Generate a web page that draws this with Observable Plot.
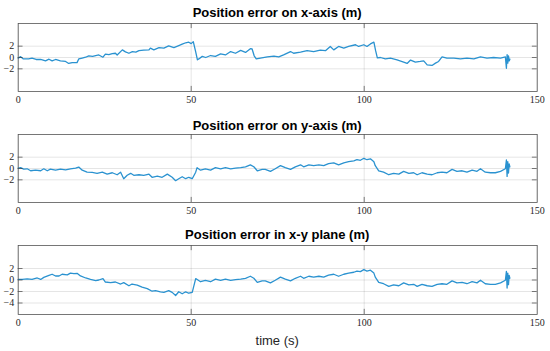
<!DOCTYPE html>
<html>
<head>
<meta charset="utf-8">
<script src="https://cdn.jsdelivr.net/npm/d3@7"></script>
<script src="https://cdn.jsdelivr.net/npm/@observablehq/plot@0.6"></script>
<style>
  html, body { margin: 0; padding: 0; background: #fff; }
  #root { position: relative; width: 550px; height: 351px; overflow: hidden; background: #fff; }
  .title { position: absolute; left: 17.7px; width: 519px; text-align: center; font-family: "Liberation Sans", Arial, sans-serif; font-weight: bold; font-size: 13px; line-height: 15px; color: #000; white-space: nowrap; }
  .xlabel { position: absolute; left: 17.7px; width: 519px; text-align: center; font-family: "Liberation Sans", Arial, sans-serif; font-size: 13px; line-height: 15px; color: #262626; }
  .panel { position: absolute; left: 0; }
  .panel svg { overflow: visible; }
</style>
</head>
<body>
<div id="root"></div>
<script>
const titles = ["Position error on x-axis (m)", "Position error on y-axis (m)", "Position error in x-y plane (m)"];
const xLabel = "time (s)";
const xTicks = [0, 50, 100, 150];
const yTicksXY = [-2, 0, 2];
const yTicksPlane = [-4, -2, 0, 2];

// [time (s), error (m)]
const errX = [[0,-0.1],[0.7,0.15],[1.5,-0.25],[3,-0.25],[4,-0.1],[5.2,-0.35],[6.5,-0.35],[7.9,-0.6],[8.9,-0.3],[9.8,-0.6],[10.8,-0.35],[12.2,-0.6],[13.7,-0.7],[14.6,-1.05],[15.6,-0.9],[17,-0.9],[17.5,-0.25],[18.5,-0.1],[19.5,0.05],[20.4,0.3],[21.5,0.2],[22.4,0.35],[23.3,0.45],[24.5,0.05],[25.2,0.6],[26.2,0.5],[27.2,0.7],[28.1,0.75],[28.6,0.45],[30.1,1.35],[31,1.0],[32,0.75],[33,1.05],[34,0.95],[34.9,1.2],[36.3,1.3],[37.8,1.35],[38.2,1.65],[39.2,1.35],[40.7,1.75],[42.1,1.65],[43.5,2.05],[45,1.75],[46.4,2.1],[47.4,2.35],[48.4,2.6],[49.3,2.7],[50,2.45],[50.6,2.8],[51.3,1.0],[51.8,-0.4],[52.2,-0.25],[53.2,0.2],[54.2,0],[55.6,0.35],[57,0.2],[58.5,0.65],[59.9,0.45],[61.4,1.05],[62.8,0.75],[64.3,1.25],[65.7,0.9],[67.1,1.55],[67.6,1.5],[68.2,0.3],[68.8,-0.25],[70,-0.1],[72,0.1],[73.9,0.25],[75.3,0.1],[76.7,0.45],[78.7,1.05],[79.6,0.75],[81.6,0.95],[83.5,1.2],[85.4,1.05],[87.3,1.3],[88.8,1.2],[90.2,1.95],[91.2,1.35],[92.6,1.95],[94.1,1.65],[95.5,1.95],[97.5,2.25],[98.4,1.95],[99.9,2.25],[100.8,1.95],[101.8,2.4],[102.8,2.7],[103.3,1.2],[103.8,-0.05],[104.7,0],[106.1,-0.25],[107.6,-0.1],[109.5,-0.4],[111.4,-0.8],[112.4,-1.05],[113.4,-0.45],[114.8,-0.8],[116.2,-0.7],[117.2,-0.6],[118.2,-1.3],[119.6,-1.4],[120.6,-1.0],[121.5,-0.7],[122.5,0.1],[123.9,-0.1],[125.9,-0.1],[127.8,-0.25],[129.7,-0.1],[131.7,-0.25],[133.6,0.1],[135.5,-0.1],[137.4,0],[139.4,-0.1],[140.8,0.1],[141.1,-1.9],[141.3,0.5],[141.5,-1.0],[141.7,0.3],[141.9,-0.6],[142.1,-0.3]];

const errY = [[0,0.05],[0.7,0.15],[1.6,-0.1],[2.6,-0.05],[3.6,-0.4],[5,-0.3],[6.5,-0.4],[7.4,-0.05],[8.4,-0.4],[9.3,-0.1],[10.8,-0.3],[12.2,-0.1],[13.7,-0.25],[15.1,-0.05],[16.6,0.05],[17.5,0.25],[18.5,-0.3],[19.9,-0.65],[21.4,-0.7],[22.8,-0.85],[24.3,-0.65],[25.7,-1.0],[27.2,-0.75],[28.6,-1.1],[29.6,-0.65],[30.5,-1.8],[31.5,-1.2],[32.5,-0.85],[33.4,-1.2],[34.9,-1.1],[36.3,-1.2],[37.8,-1.0],[38.7,-1.55],[40.2,-1.35],[41.6,-1.55],[43.1,-1.0],[44.5,-1.55],[45.5,-2.15],[46.4,-1.8],[47.4,-1.45],[48.4,-1.8],[49.3,-1.55],[50.3,-1.8],[51.3,-0.65],[51.7,0.15],[52.7,-0.3],[54.1,-0.05],[55.6,-0.3],[57,0.15],[58.5,-0.05],[59.9,0.15],[61.4,-0.05],[62.8,0.05],[64.3,0.15],[65.7,0.3],[67.1,0.65],[68.1,0.3],[69.1,-0.4],[70.5,-0.15],[71.4,-0.15],[72.9,-0.5],[74.3,-0.05],[75.8,0.5],[77.2,0.15],[78.7,-0.15],[80.1,0.3],[81.6,0.65],[82.5,0.3],[84,0.65],[85.4,0.5],[86.9,0.65],[88.3,0.5],[89.7,0.85],[91.2,1.0],[92.6,0.65],[94.1,1.0],[95.5,1.2],[97,1.35],[97.9,1.55],[98.9,1.45],[99.9,1.8],[100.8,1.55],[101.8,1.7],[102.8,1.2],[103.2,0.5],[104.2,-0.4],[105.6,-0.65],[107.1,-1.1],[108.5,-0.85],[110,-1.0],[111.4,-0.5],[112.9,-0.85],[114.3,-0.75],[115.3,-1.1],[116.7,-0.75],[118.2,-1.0],[119.6,-1.1],[121.1,-0.75],[122.5,-0.65],[123.9,-0.75],[125.4,-0.15],[126.8,-0.5],[128.3,-0.4],[129.7,-0.65],[131.2,-0.3],[132.6,-0.5],[133.6,-0.05],[135,-0.65],[136.5,-0.75],[137.9,-0.75],[139.4,-0.5],[140.8,-0.05],[141.1,1.5],[141.3,-1.4],[141.5,1.2],[141.7,-0.8],[141.9,0.8],[142.1,0.3]];

const errPlane = [[0,0.1],[1.2,0.1],[2.6,0.2],[4,0.1],[5.5,0.35],[6.5,0.1],[7.4,0.45],[8.9,0.8],[9.8,1.0],[10.8,0.7],[11.8,0.7],[12.7,1.0],[14.2,0.9],[15.1,1.2],[16.1,1.1],[17.1,1.15],[18,0.7],[19.5,0.35],[20.9,0.1],[22.4,-0.1],[23.3,0],[24.5,0.25],[25.2,-0.35],[26.7,-0.45],[28.1,-0.35],[29.6,-0.7],[30.5,-0.45],[32,-1.0],[32.9,-0.7],[34.4,-0.9],[35.8,-1.25],[37.3,-1.5],[38.7,-1.95],[39.7,-1.85],[41.1,-2.05],[42.1,-2.15],[43.5,-1.85],[44.5,-2.15],[45.5,-2.7],[46.4,-2.05],[47.4,-2.4],[48.4,-2.05],[49.3,-2.3],[50.3,-2.15],[51.3,0.25],[52.7,-0.3],[54.1,-0.05],[55.6,-0.3],[57,0.15],[58.5,-0.05],[59.9,0.15],[61.4,-0.05],[62.8,0.05],[64.3,0.15],[65.7,0.3],[67.1,0.65],[68.1,0.3],[69.1,-0.4],[70.5,-0.15],[71.4,-0.15],[72.9,-0.5],[74.3,-0.05],[75.8,0.5],[77.2,0.15],[78.7,-0.15],[80.1,0.3],[81.6,0.65],[82.5,0.3],[84,0.65],[85.4,0.5],[86.9,0.65],[88.3,0.5],[89.7,0.85],[91.2,1.0],[92.6,0.65],[94.1,1.0],[95.5,1.2],[97,1.35],[97.9,1.55],[98.9,1.45],[99.9,1.8],[100.8,1.55],[101.8,1.7],[102.8,1.2],[103.2,0.5],[104.2,-0.4],[105.6,-0.65],[107.1,-1.1],[108.5,-0.85],[110,-1.0],[111.4,-0.5],[112.9,-0.85],[114.3,-0.75],[115.3,-1.1],[116.7,-0.75],[118.2,-1.0],[119.6,-1.1],[121.1,-0.75],[122.5,-0.65],[123.9,-0.75],[125.4,-0.15],[126.8,-0.5],[128.3,-0.4],[129.7,-0.65],[131.2,-0.3],[132.6,-0.5],[133.6,-0.05],[135,-0.65],[136.5,-0.75],[137.9,-0.75],[139.4,-0.5],[140.8,-0.05],[141.1,1.5],[141.3,-1.4],[141.5,1.2],[141.7,-0.8],[141.9,0.8],[142.1,0.3]];

const lineColor = "#2a92d0";
const fmt = d => d < 0 ? "\u2212" + (-d) : String(d);

function panel(data, yTicks, boxH) {
  const innerTicksY = yTicks.flatMap(v => [{y: v, x1: 0, x2: 1.4}, {y: v, x1: 148.6, x2: 150}]);
  const innerTicksX = xTicks.slice(1, -1).flatMap(v => [{x: v, y1: -6, y2: -5.1}, {x: v, y1: 5.1, y2: 6}]);
  return Plot.plot({
    width: 550,
    height: 6 + boxH + 22,
    marginTop: 6,
    marginBottom: 22,
    marginLeft: 17.7,
    marginRight: 13.3,
    x: {domain: [0, 150]},
    y: {domain: [-6, 6]},
    style: {fontFamily: "'Liberation Serif', 'Times New Roman', serif", fontSize: "10px", color: "#262626", background: "transparent"},
    marks: [
      Plot.gridX(xTicks, {stroke: "#000", strokeOpacity: 0.1}),
      Plot.gridY(yTicks, {stroke: "#000", strokeOpacity: 0.1}),
      Plot.line(data, {x: d => d[0], y: d => d[1], stroke: lineColor, strokeWidth: 1.3, curve: "linear"}),
      Plot.ruleY(innerTicksY, {y: "y", x1: "x1", x2: "x2", stroke: "#262626", strokeWidth: 0.6}),
      Plot.ruleX(innerTicksX, {x: "x", y1: "y1", y2: "y2", stroke: "#262626", strokeWidth: 0.6}),
      Plot.frame({stroke: "#555", strokeWidth: 0.8}),
      Plot.axisX(xTicks, {tickSize: 0, tickPadding: 4, tickFormat: fmt}),
      Plot.axisY(yTicks, {tickSize: 0, tickPadding: 4, tickFormat: fmt})
    ]
  });
}

const root = document.getElementById("root");
const specs = [
  {data: errX, ticks: yTicksXY, top: 17, boxH: 68, titleTop: 5},
  {data: errY, ticks: yTicksXY, top: 128.3, boxH: 68, titleTop: 117.5},
  {data: errPlane, ticks: yTicksPlane, top: 239, boxH: 69, titleTop: 227}
];
specs.forEach((s, i) => {
  const t = document.createElement("div");
  t.className = "title";
  t.style.top = s.titleTop + "px";
  t.textContent = titles[i];
  root.appendChild(t);
  const p = document.createElement("div");
  p.className = "panel";
  p.style.top = s.top + "px";
  p.appendChild(panel(s.data, s.ticks, s.boxH));
  root.appendChild(p);
});
const xl = document.createElement("div");
xl.className = "xlabel";
xl.style.top = "332.5px";
xl.textContent = xLabel;
root.appendChild(xl);
</script>
</body>
</html>
